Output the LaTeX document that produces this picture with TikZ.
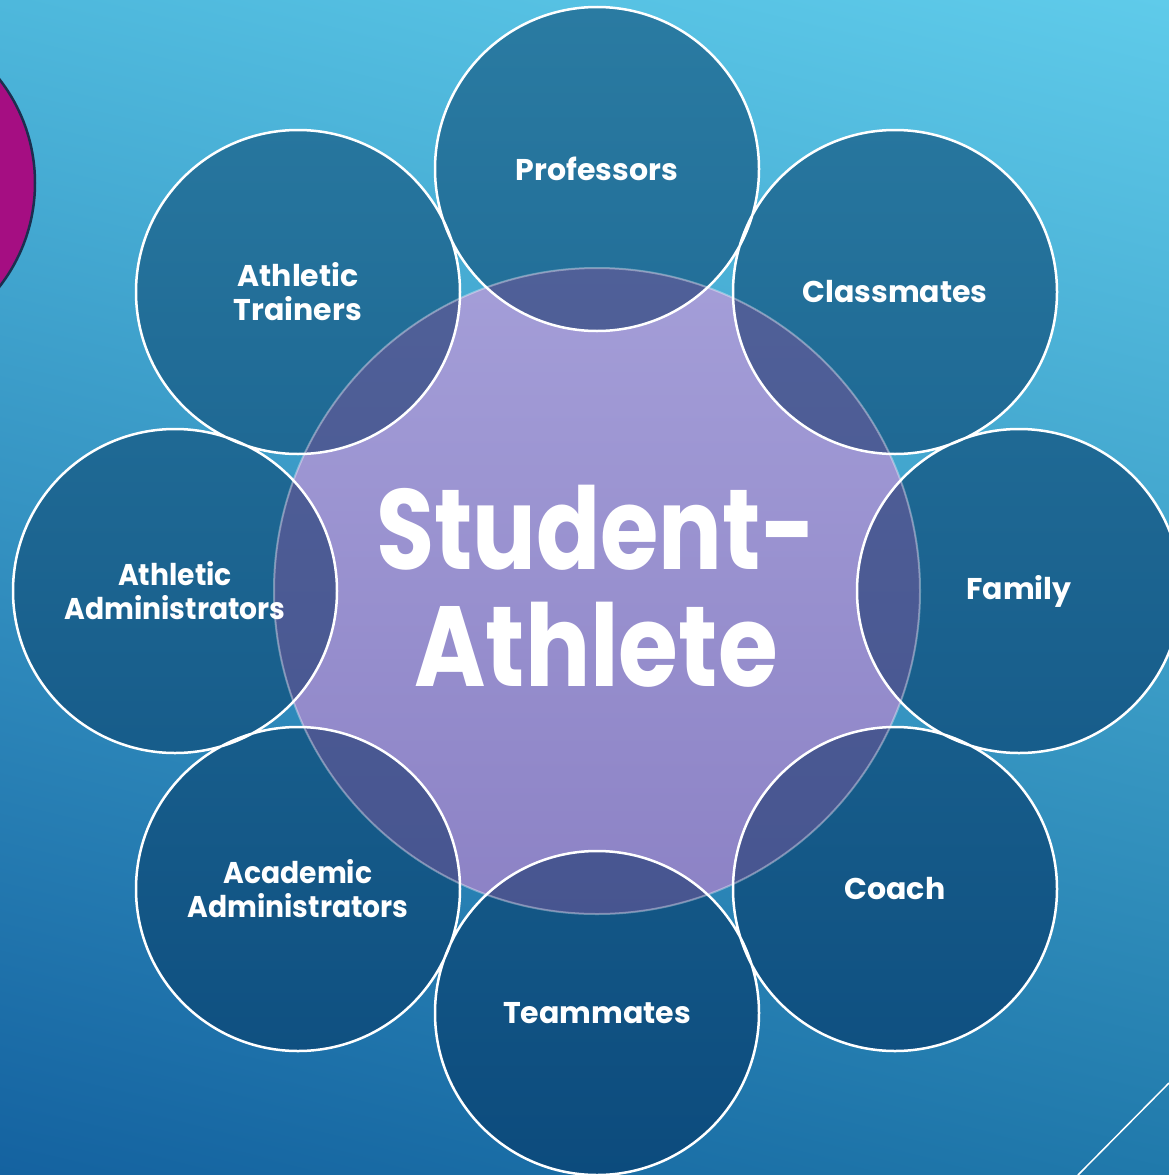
\documentclass[tikz,border=0pt]{standalone}
\usepackage{fontspec}
\usetikzlibrary{shadings}
\setmainfont{Poppins}
\definecolor{bgUL}{HTML}{4EB8DC}
\definecolor{bgUR}{HTML}{5FCBEA}
\definecolor{bgLL}{HTML}{1462A0}
\definecolor{bgLR}{HTML}{2079AB}
\definecolor{outTop}{HTML}{2A7BA2}
\definecolor{outBot}{HTML}{0C4B7D}
\definecolor{purTop}{HTML}{A49ED8}
\definecolor{purBot}{HTML}{8C82C5}
\definecolor{dpTop}{HTML}{53649B}
\definecolor{dpBot}{HTML}{44518D}
\definecolor{magenta}{HTML}{A50E82}
\definecolor{navyedge}{HTML}{1B2F4F}
\tikzset{
  lbl/.style={text=white,align=center,font=\fontsize{30}{34}\selectfont\bfseries},
  bigl/.style={text=white,align=center,font=\fontsize{114}{117}\selectfont\bfseries},
  ring/.style={draw=white,line width=2.5pt},
}
\newcommand{\outerpath}{(P) circle (162) (C) circle (162) (F) circle (162) (Co) circle (162) (T) circle (162) (AA) circle (162) (AD) circle (162) (AT) circle (162)}
\begin{document}
\begin{tikzpicture}[x=1pt,y=-1pt]
\useasboundingbox (0,0) rectangle (1169,1175);
\shade[upper left=bgUL,upper right=bgUR,lower left=bgLL,lower right=bgLR] (0,0) rectangle (1169,1175);
% centers
\coordinate (S) at (597,591);
\coordinate (P) at (597,169);
\coordinate (C) at (895,292);
\coordinate (F) at (1019,591);
\coordinate (Co) at (895,889);
\coordinate (T) at (597,1013);
\coordinate (AA) at (298,889);
\coordinate (AD) at (175,591);
\coordinate (AT) at (298,292);
\coordinate (M) at (-134,183);
\coordinate (L1) at (1078,1175);
\coordinate (L2) at (1169,1083);
% magenta circle
\fill[magenta] (M) circle (169);
\draw[navyedge,line width=2.5pt] (M) circle (169);
% outer circles, even-odd
\shade[even odd rule,top color=outTop,bottom color=outBot] \outerpath;
% center circle
\begin{scope}
\clip (S) circle (323);
\shade[top color=purTop,bottom color=purBot] (274,268) rectangle (920,914);
\shade[even odd rule,top color=dpTop,bottom color=dpBot] \outerpath;
\end{scope}
\draw[white,opacity=0.35,line width=2pt] (S) circle (323);
\draw[ring] \outerpath;
% bottom right line
\draw[white,line width=1.5pt] (L1) -- (L2);
% labels
\node[bigl] (sa) at (596,586) {\scalebox{0.83}[1]{Student-}\\\scalebox{0.85}[1]{Athlete}};
\node[lbl] (pr) at (597,169) {Professors};
\node[lbl] (cl) at (895,292) {Classmates};
\node[lbl] (fa) at (1019,591) {Family};
\node[lbl] (co) at (895,889) {Coach};
\node[lbl] (te) at (597,1013) {Teammates};
\node[lbl] (ac) at (298,889) {\scalebox{0.94}[1]{Academic}\\\scalebox{0.94}[1]{Administrators}};
\node[lbl] (ad) at (175,591) {\scalebox{0.94}[1]{Athletic}\\\scalebox{0.94}[1]{Administrators}};
\node[lbl] (at) at (298,292) {Athletic\\Trainers};
\end{tikzpicture}
\end{document}
